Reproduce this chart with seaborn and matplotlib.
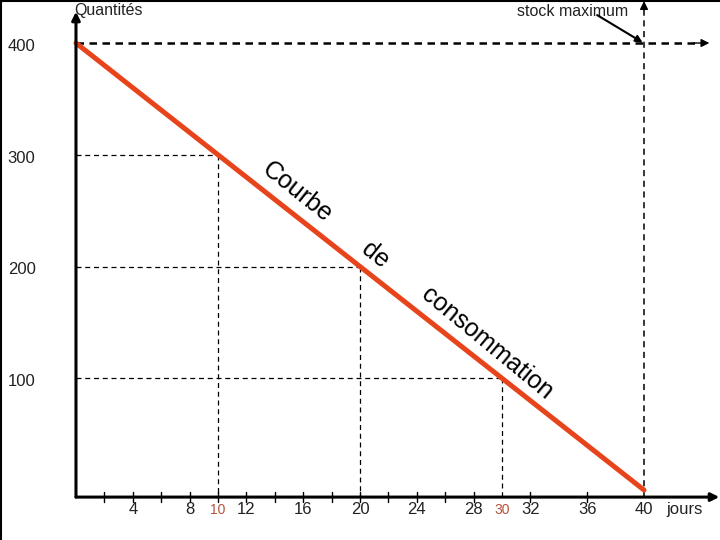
import matplotlib
matplotlib.use("Agg")
import matplotlib.pyplot as plt
import seaborn as sns
import pandas as pd

# data
jours = [0, 40]
quantites = [400, 0]
x_ticks_minor = [2, 4, 6, 8, 10, 12, 14, 16, 18, 20, 22, 24, 26, 28, 32, 36]
x_labels = [4, 8, 12, 16, 20, 24, 28, 32, 36, 40]
x_marks_red = [10, 30]
y_labels = [400, 300, 200, 100]
guide_x = [10, 20, 30]
guide_y = [300, 200, 100]
stock_max = 400

sns.set_style("white")
plt.rcParams['font.family'] = ['Liberation Sans', 'DejaVu Sans']

fig = plt.figure(figsize=(7.2, 5.4), dpi=100)
ax = fig.add_axes([0, 0, 1, 1])
ax.set_xlim(-5.35, 45.35)
ax.set_ylim(-44.7, 438.5)
ax.axis('off')

x_axis_y = -6.3

# frame edges (top and left)
fig.add_artist(plt.Line2D([0, 1], [0.999, 0.999], color='black', lw=1.5))
fig.add_artist(plt.Line2D([0.001, 0.001], [0, 1], color='black', lw=1.5))

# axes with arrows
ax.annotate('', xy=(45.3, x_axis_y), xytext=(0, x_axis_y), annotation_clip=False,
            arrowprops=dict(arrowstyle='-|>', color='black', lw=2.2, mutation_scale=12,
                            shrinkA=0, shrinkB=0))
ax.annotate('', xy=(0, 428), xytext=(0, x_axis_y), annotation_clip=False,
            arrowprops=dict(arrowstyle='-|>', color='black', lw=2.2, mutation_scale=12,
                            shrinkA=0, shrinkB=0))

# x ticks
for t in x_ticks_minor:
    ax.plot([t, t], [-1.8, -10.7], color='black', lw=1)
for t in x_labels:
    ax.text(t, -17, str(t), ha='center', va='center', fontsize=12, color='#222222')
for t in x_marks_red:
    ax.text(t, -18, str(t), ha='center', va='center', fontsize=10, color='#b5523b')
ax.text(41.6, -17, 'jours', ha='left', va='center', fontsize=12, color='#222222')

# y labels
for v in y_labels:
    ax.text(-4.8, v - 3, str(v), ha='left', va='center', fontsize=12, color='#222222')
ax.text(-0.1, 429.5, 'Quantités', ha='left', va='center', fontsize=11.5, color='#222222')

# guide lines
for gx, gy in zip(guide_x, guide_y):
    ax.plot([0, gx], [gy, gy], color='black', lw=0.9, ls=(0, (4, 3)))
    ax.plot([gx, gx], [gy, x_axis_y], color='black', lw=0.9, ls=(0, (4, 3)))

# stock maximum lines
ax.plot([0, 43.8], [stock_max, stock_max], color='black', lw=1.8, ls=(0, (3, 2.2)))
ax.annotate('', xy=(44.6, stock_max), xytext=(43.5, stock_max), annotation_clip=False,
            arrowprops=dict(arrowstyle='-|>', color='black', lw=1, mutation_scale=12,
                            shrinkA=0, shrinkB=0))
ax.plot([40, 40], [x_axis_y, 430], color='black', lw=1.1, ls=(0, (4, 3)))
ax.annotate('', xy=(40, 437.5), xytext=(40, 430), annotation_clip=False,
            arrowprops=dict(arrowstyle='-|>', color='black', lw=1, mutation_scale=12,
                            shrinkA=0, shrinkB=0))
ax.text(35.0, 428.6, 'stock maximum', ha='center', va='center', fontsize=11.5, color='#222222')
ax.annotate('', xy=(39.9, 400.5), xytext=(36.7, 425),
            arrowprops=dict(arrowstyle='-|>', color='black', lw=1.5, mutation_scale=10,
                            shrinkA=0, shrinkB=0))

# consumption line
df = pd.DataFrame({'jours': jours, 'quantites': quantites})
sns.lineplot(data=df, x='jours', y='quantites', ax=ax, color='#e8441c', lw=3.6)
ax.set_xlim(-5.35, 45.35)
ax.set_ylim(-44.7, 438.5)

ax.text(15.6, 266.7, 'Courbe', rotation=-38.5, rotation_mode='anchor',
        ha='center', va='center', fontsize=18, color='black')
ax.text(21.06, 210.3, 'de', rotation=-38.5, rotation_mode='anchor',
        ha='center', va='center', fontsize=18, color='black')
ax.text(28.94, 131.5, 'consommation', rotation=-39.5, rotation_mode='anchor',
        ha='center', va='center', fontsize=18, color='black')

fig.savefig('out.png', dpi=100)
